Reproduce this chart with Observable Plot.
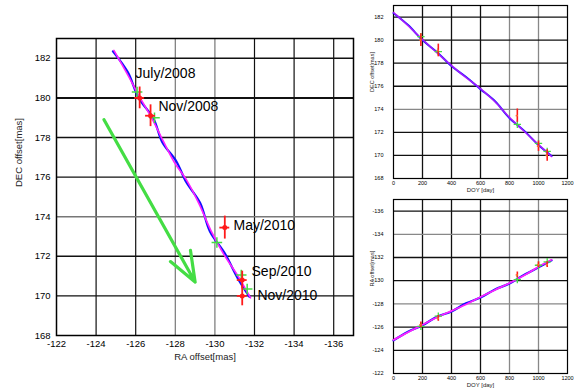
<!DOCTYPE html>
<html>
<head>
<meta charset="utf-8">
<script src="https://cdn.jsdelivr.net/npm/d3@7"></script>
<script src="https://cdn.jsdelivr.net/npm/@observablehq/plot@0.6"></script>
<style>
  html, body { margin: 0; padding: 0; background: #fff; }
  #wrap { position: relative; width: 574px; height: 388px; overflow: hidden; background: #fff; font-family: "Liberation Sans", Arial, sans-serif; }
</style>
</head>
<body>
<div id="wrap"></div>
<script>
// ---------- data ----------
const obsLabel  = ["July/2008", "Nov/2008", "May/2010", "Sep/2010", "Nov/2010"];
const obsDOY    = [189, 309, 854, 1000, 1060];
const obsRA     = [-126.2, -126.75, -130.5, -131.38, -131.38];
const obsDEC    = [180.0, 179.1, 173.45, 170.8, 170.0];
const obsRAerr  = [0.25, 0.25, 0.25, 0.25, 0.25];
const obsDECerr = [0.55, 0.55, 0.58, 0.45, 0.5];
const labelRA   = [-125.99, -127.15, -130.94, -131.85, -132.15];
const labelDEC  = [181.25, 179.58, 173.56, 171.24, 170.02];

const modelRA   = [-126.07, -126.95, -130.1, -131.33, -131.63];
const modelDEC  = [180.3, 179.0, 172.7, 171.05, 170.35];

const curveDOY   = [0, 100, 200, 300, 400, 500, 600, 700, 800, 900, 1000, 1090];
const magentaRA  = [-124.9, -125.55, -126.2, -126.85, -127.4, -127.95, -128.6, -129.2, -129.8, -130.45, -131.2, -131.8];
const magentaDEC = [182.4, 181.25, 180.05, 178.9, 177.8, 176.75, 175.8, 174.65, 173.3, 172.1, 170.95, 169.9];
const blueRA     = [-124.85, -125.6, -126.15, -126.9, -127.35, -128.05, -128.55, -129.25, -129.75, -130.5, -131.15, -131.75];
const blueDEC    = [182.35, 181.3, 180.0, 178.95, 177.75, 176.8, 175.75, 174.7, 173.25, 172.15, 170.9, 169.95];

const arrowRA  = [-124.4, -129.0];
const arrowDEC = [178.9, 170.7];

const mainXTicks = [-122, -124, -126, -128, -130, -132, -134, -136];
const mainYTicks = [168, 170, 172, 174, 176, 178, 180, 182];
const doyTicks   = [0, 200, 400, 600, 800, 1000, 1200];
const decTicks   = [168, 170, 172, 174, 176, 178, 180, 182];
const raTicks    = [-122, -124, -126, -128, -130, -132, -134, -136];

// ---------- helpers ----------
const idx = d3.range(obsLabel.length);
const cIdx = d3.range(curveDOY.length);
const fmt = d => String(d);
const RED = "#ff1a1a", GREEN = "#44dd44", BLUE = "#1010ff", MAG = "#ff22ff";
const wrap = document.getElementById("wrap");
function place(svg, left, topPx) {
  svg.style.position = "absolute";
  svg.style.left = left + "px";
  svg.style.top = topPx + "px";
  wrap.appendChild(svg);
}

// ---------- main panel ----------
const mainGrey = new Set([-128, -130, 174]);
const mainPlot = Plot.plot({
  width: 360, height: 388,
  marginLeft: 56, marginRight: 7, marginTop: 38, marginBottom: 53,
  style: {fontFamily: "'Liberation Sans', Arial, sans-serif", fontSize: "9.5px", background: "transparent", color: "black", overflow: "visible"},
  x: {domain: [-122, -137], ticks: mainXTicks, tickFormat: fmt, tickSize: 0, tickPadding: 5, label: null},
  y: {domain: [168, 183], ticks: mainYTicks, tickFormat: fmt, tickSize: 0, tickPadding: 6, label: null},
  marks: [
    Plot.ruleX(mainXTicks.slice(1), {x: d => d, stroke: d => mainGrey.has(d) ? "#777777" : "#111111", strokeWidth: 1.2}),
    Plot.ruleY(mainYTicks.slice(1), {y: d => d, stroke: d => mainGrey.has(d) ? "#777777" : "#111111", strokeWidth: d => d === 180 ? 2 : 1.4}),
    Plot.frame({stroke: "black", strokeWidth: 1.5}),
    Plot.arrow([0], {x1: () => arrowRA[0], y1: () => arrowDEC[0], x2: () => arrowRA[1], y2: () => arrowDEC[1], stroke: GREEN, strokeWidth: 3.2, headLength: 15, headAngle: 42}),
    Plot.line(cIdx, {x: i => blueRA[i], y: i => blueDEC[i], stroke: BLUE, strokeWidth: 2.2, curve: "catmull-rom"}),
    Plot.line(cIdx, {x: i => magentaRA[i], y: i => magentaDEC[i], stroke: MAG, strokeWidth: 1.6, curve: "catmull-rom"}),
    Plot.dot(idx, {x: i => modelRA[i], y: i => modelDEC[i], symbol: "plus", r: 3.5, stroke: GREEN, strokeWidth: 1.5}),
    Plot.ruleX(idx, {x: i => obsRA[i], y1: i => obsDEC[i] - obsDECerr[i], y2: i => obsDEC[i] + obsDECerr[i], stroke: RED, strokeWidth: 1.8}),
    Plot.ruleY(idx, {y: i => obsDEC[i], x1: i => obsRA[i] - obsRAerr[i], x2: i => obsRA[i] + obsRAerr[i], stroke: RED, strokeWidth: 1.8}),
    Plot.dot(idx, {x: i => obsRA[i], y: i => obsDEC[i], r: 2.5, fill: RED}),
    Plot.text(idx, {x: i => labelRA[i], y: i => labelDEC[i], text: i => obsLabel[i], textAnchor: "start", fontSize: 14, fill: "black"}),
    Plot.text(["RA offset[mas]"], {frameAnchor: "bottom", dy: 24, fontSize: 9.5, fill: "#222"}),
    Plot.text(["DEC offset[mas]"], {frameAnchor: "left", dx: -38, rotate: -90, fontSize: 9.5, fill: "#222"})
  ]
});
place(mainPlot, 0, 0);

// ---------- right top panel: DEC vs DOY ----------
const smallGreyX = new Set([800, 1000]);
const smallStyle = {fontFamily: "'Liberation Sans', Arial, sans-serif", fontSize: "5.5px", background: "transparent", color: "black", overflow: "visible"};
const topGreyY = new Set([174]);
const decPlot = Plot.plot({
  width: 214, height: 195,
  marginLeft: 33, marginRight: 7, marginTop: 5, marginBottom: 17,
  style: smallStyle,
  x: {domain: [0, 1200], ticks: doyTicks, tickFormat: fmt, tickSize: 0, tickPadding: 3, label: null},
  y: {domain: [168, 183], ticks: decTicks, tickFormat: fmt, tickSize: 0, tickPadding: 10, label: null},
  marks: [
    Plot.ruleX(doyTicks.slice(1, -1), {x: d => d, stroke: d => smallGreyX.has(d) ? "#888888" : "#111111", strokeWidth: 1.3}),
    Plot.ruleY(decTicks.slice(1), {y: d => d, stroke: d => topGreyY.has(d) ? "#888888" : "#111111", strokeWidth: 1.3}),
    Plot.frame({stroke: "black", strokeWidth: 1.2}),
    Plot.line(cIdx, {x: i => curveDOY[i], y: i => blueDEC[i], stroke: BLUE, strokeWidth: 2, curve: "catmull-rom"}),
    Plot.line(cIdx, {x: i => curveDOY[i], y: i => magentaDEC[i], stroke: MAG, strokeWidth: 1.6, strokeOpacity: 0.6, curve: "catmull-rom"}),
    Plot.dot(idx, {x: i => obsDOY[i], y: i => modelDEC[i], symbol: "plus", r: 2.5, stroke: GREEN, strokeWidth: 1.3}),
    Plot.ruleX(idx, {x: i => obsDOY[i], y1: i => obsDEC[i] - obsDECerr[i], y2: i => obsDEC[i] + obsDECerr[i], stroke: RED, strokeWidth: 1.6}),
    Plot.ruleY(idx, {y: i => obsDEC[i], x1: i => obsDOY[i] - 8, x2: i => obsDOY[i] + 8, stroke: "#ff6a2a", strokeWidth: 1.5}),
    Plot.text(["DOY [day]"], {frameAnchor: "bottom", dy: 13, fontSize: 6, fill: "#222"}),
    Plot.text(["DEC offset[mas]"], {frameAnchor: "left", dx: -21, rotate: -90, fontSize: 5.5, fill: "#222"})
  ]
});
place(decPlot, 360, 0);

// ---------- right bottom panel: RA vs DOY ----------
const botGreyY = new Set([-134, -128]);
const raPlot = Plot.plot({
  width: 214, height: 193,
  marginLeft: 33, marginRight: 7, marginTop: 4, marginBottom: 15,
  style: smallStyle,
  x: {domain: [0, 1200], ticks: doyTicks, tickFormat: fmt, tickSize: 0, tickPadding: 3, label: null},
  y: {domain: [-122, -137], ticks: raTicks, tickFormat: fmt, tickSize: 0, tickPadding: 10, label: null},
  marks: [
    Plot.ruleX(doyTicks.slice(1, -1), {x: d => d, stroke: d => smallGreyX.has(d) ? "#888888" : "#111111", strokeWidth: 1.3}),
    Plot.ruleY(raTicks.slice(1), {y: d => d, stroke: d => botGreyY.has(d) ? "#888888" : "#111111", strokeWidth: 1.3}),
    Plot.frame({stroke: "black", strokeWidth: 1.2}),
    Plot.line(cIdx, {x: i => curveDOY[i], y: i => blueRA[i], stroke: BLUE, strokeWidth: 2.2, curve: "catmull-rom"}),
    Plot.line(cIdx, {x: i => curveDOY[i], y: i => magentaRA[i], stroke: MAG, strokeWidth: 1.8, curve: "catmull-rom"}),
    Plot.dot(idx, {x: i => obsDOY[i], y: i => modelRA[i], symbol: "plus", r: 2.5, stroke: GREEN, strokeWidth: 1.3}),
    Plot.ruleX(idx, {x: i => obsDOY[i], y1: i => obsRA[i] - obsRAerr[i], y2: i => obsRA[i] + obsRAerr[i], stroke: RED, strokeWidth: 1.6}),
    Plot.ruleY(idx, {y: i => obsRA[i], x1: i => obsDOY[i] - 8, x2: i => obsDOY[i] + 8, stroke: "#ff6a2a", strokeWidth: 1.5}),
    Plot.text(["DOY [day]"], {frameAnchor: "bottom", dy: 13, fontSize: 6, fill: "#222"}),
    Plot.text(["RA offset[mas]"], {frameAnchor: "left", dx: -21, rotate: -90, fontSize: 5.5, fill: "#222"})
  ]
});
place(raPlot, 360, 195);
</script>
</body>
</html>
